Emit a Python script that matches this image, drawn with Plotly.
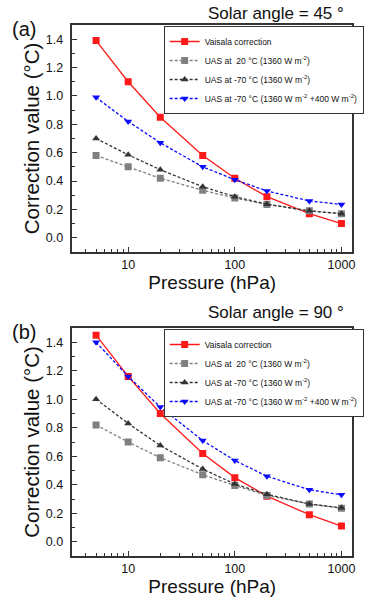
import plotly.graph_objects as go

pressure = [5, 10, 20, 50, 100, 200, 500, 1000]

# (a) solar angle 45
vaisala_45 = [1.39, 1.10, 0.85, 0.58, 0.42, 0.29, 0.17, 0.10]
uas20_45 = [0.58, 0.50, 0.42, 0.335, 0.28, 0.235, 0.19, 0.17]
uas70_45 = [0.70, 0.585, 0.48, 0.36, 0.29, 0.237, 0.19, 0.17]
uas70ir_45 = [0.99, 0.82, 0.67, 0.50, 0.41, 0.33, 0.26, 0.235]

# (b) solar angle 90
vaisala_90 = [1.45, 1.16, 0.90, 0.62, 0.45, 0.32, 0.19, 0.11]
uas20_90 = [0.82, 0.70, 0.59, 0.47, 0.395, 0.325, 0.265, 0.235]
uas70_90 = [1.00, 0.83, 0.675, 0.51, 0.405, 0.333, 0.265, 0.238]
uas70ir_90 = [1.40, 1.16, 0.945, 0.71, 0.57, 0.46, 0.365, 0.33]

names = [
    "Vaisala correction",
    "UAS at \u00a020 °C (1360 W m<sup>-2</sup>)",
    "UAS at -70 °C (1360 W m<sup>-2</sup>)",
    "UAS at -70 °C (1360 W m<sup>-2</sup> +400 W m<sup>-2</sup>)",
]
styles = [
    dict(color="#ff1a1a", dash="solid", symbol="square"),
    dict(color="#808080", dash="3px,2px", symbol="square"),
    dict(color="#333333", dash="3px,2px", symbol="triangle-up"),
    dict(color="#0a0aff", dash="3px,2px", symbol="triangle-down"),
]

FONT = "Arial, Liberation Sans, sans-serif"
W, H = 369, 600

fig = go.Figure()

panels = [
    ("x", "y", "legend", [vaisala_45, uas20_45, uas70_45, uas70ir_45]),
    ("x2", "y2", "legend2", [vaisala_90, uas20_90, uas70_90, uas70ir_90]),
]
for xa, ya, leg, series in panels:
    for name, st, vals in zip(names, styles, series):
        fig.add_trace(go.Scatter(
            x=pressure, y=vals, name=name, mode="lines+markers",
            xaxis=xa, yaxis=ya, legend=leg,
            line=dict(color=st["color"], dash=st["dash"], width=1.3),
            marker=dict(symbol=st["symbol"], size=7, color=st["color"]),
        ))


def xax(domain, anchor):
    return dict(
        type="log", domain=domain, anchor=anchor, range=[0.477, 3.1],
        dtick=1, exponentformat="none", showgrid=False, zeroline=False,
        showline=True, linecolor="#333", linewidth=1.5, mirror=True,
        ticks="inside", ticklen=5, tickcolor="#333",
        minor=dict(ticks="inside", ticklen=3, tickcolor="#333"),
        tickfont=dict(family=FONT, size=12.5, color="#111"),
        title=dict(text="Pressure (hPa)", font=dict(family=FONT, size=19, color="#111"),
                   standoff=4),
    )


def yax(domain, anchor):
    return dict(
        domain=domain, anchor=anchor, range=[-0.1, 1.5],
        dtick=0.2, tick0=0, tickformat=".1f", showgrid=False, zeroline=False,
        showline=True, linecolor="#333", linewidth=1.5, mirror=True,
        ticks="inside", ticklen=5, tickcolor="#333",
        minor=dict(ticks="inside", ticklen=3, dtick=0.1, tickcolor="#333"),
        tickfont=dict(family=FONT, size=12.5, color="#111"),
        ticklabelstandoff=5,
        title=dict(text="Correction value (°C)", font=dict(family=FONT, size=20.5, color="#111"),
                   standoff=1),
    )


xd = [73 / W, 355 / W]
yd_a = [1 - 252 / H, 1 - 25 / H]
yd_b = [1 - 556 / H, 1 - 328 / H]

leg_common = dict(
    xanchor="left", yanchor="top", bgcolor="white", bordercolor="#333", borderwidth=1,
    font=dict(family=FONT, size=8.5, color="#111"), itemwidth=30, tracegroupgap=0,
    itemclick=False,
)

fig.update_layout(
    width=W, height=H, margin=dict(l=0, r=0, t=0, b=0),
    paper_bgcolor="white", plot_bgcolor="white",
    xaxis=xax(xd, "y"), yaxis=yax(yd_a, "x"),
    xaxis2=xax(xd, "y2"), yaxis2=yax(yd_b, "x2"),
    legend=dict(x=165 / W, y=1 - 26 / H, **leg_common),
    legend2=dict(x=165 / W, y=1 - 329 / H, **leg_common),
    annotations=[
        dict(text="(a)", x=10 / W, y=1 - 29 / H, xref="paper", yref="paper",
             xanchor="left", yanchor="middle", showarrow=False,
             font=dict(family=FONT, size=20, color="#111")),
        dict(text="Solar angle = 45 °", x=349 / W, y=1 - 14 / H, xref="paper", yref="paper",
             xanchor="right", yanchor="middle", showarrow=False,
             font=dict(family=FONT, size=17, color="#111")),
        dict(text="(b)", x=10 / W, y=1 - 332 / H, xref="paper", yref="paper",
             xanchor="left", yanchor="middle", showarrow=False,
             font=dict(family=FONT, size=20, color="#111")),
        dict(text="Solar angle = 90 °", x=349 / W, y=1 - 313 / H, xref="paper", yref="paper",
             xanchor="right", yanchor="middle", showarrow=False,
             font=dict(family=FONT, size=17, color="#111")),
    ],
)

fig.write_html("out.html", config={"displayModeBar": False},
               post_script="document.body.style.margin='0';")
